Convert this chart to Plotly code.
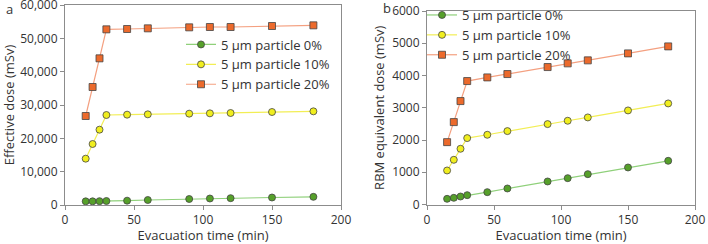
import plotly.graph_objects as go

time_min = [15, 20, 25, 30, 45, 60, 90, 105, 120, 150, 180]

eff_0 = [1100, 1100, 1150, 1200, 1300, 1500, 1800, 1950, 2050, 2250, 2450]
eff_10 = [13900, 18300, 22600, 27000, 27100, 27200, 27400, 27500, 27600, 27900, 28100]
eff_20 = [26700, 35400, 44000, 52700, 52800, 53000, 53300, 53400, 53400, 53700, 53900]

rbm_0 = [176, 207, 248, 290, 383, 497, 714, 817, 941, 1148, 1355]
rbm_10 = [1055, 1386, 1728, 2059, 2162, 2276, 2493, 2597, 2700, 2917, 3134]
rbm_20 = [1934, 2555, 3207, 3828, 3941, 4045, 4262, 4376, 4469, 4686, 4903]

series_names = ["5 µm particle 0%", "5 µm particle 10%", "5 µm particle 20%"]
marker_colors = ["#56a02a", "#f0ee1e", "#ec6a2c"]
line_colors = ["#8fd07a", "#f2ee55", "#f4a080"]
symbols = ["circle", "circle", "square"]

FONT = "Open Sans, Noto Sans, DejaVu Sans, sans-serif"
TXT = "#333333"

fig = go.Figure()

for i, ys in enumerate([eff_0, eff_10, eff_20]):
    fig.add_trace(go.Scatter(
        x=time_min, y=ys, mode="lines+markers", name=series_names[i],
        xaxis="x", yaxis="y", legend="legend",
        line=dict(color=line_colors[i], width=1.2),
        marker=dict(symbol=symbols[i], size=7, color=marker_colors[i],
                    line=dict(color="#444444", width=0.8)),
    ))

for i, ys in enumerate([rbm_0, rbm_10, rbm_20]):
    fig.add_trace(go.Scatter(
        x=time_min, y=ys, mode="lines+markers", name=series_names[i],
        xaxis="x2", yaxis="y2", legend="legend2",
        line=dict(color=line_colors[i], width=1.2),
        marker=dict(symbol=symbols[i], size=7, color=marker_colors[i],
                    line=dict(color="#444444", width=0.8)),
    ))

axis_common = dict(showgrid=False, zeroline=False, showline=True, mirror=True,
                   linecolor="#8c8c8c", linewidth=1, ticks="outside", ticklen=4,
                   tickcolor="#8c8c8c", automargin=False, ticklabeloverflow="allow",
                   tickfont=dict(size=12, color=TXT, family=FONT))

fig.update_layout(
    width=708, height=244,
    margin=dict(l=0, r=0, t=0, b=0, autoexpand=False),
    paper_bgcolor="white", plot_bgcolor="white",
    font=dict(family=FONT, color=TXT),
    xaxis=dict(domain=[65/708, 341/708], range=[0, 200], dtick=50, anchor="y",
               title=dict(text="Evacuation time (min)", font=dict(size=13), standoff=2),
               **axis_common),
    yaxis=dict(domain=[39/244, 239/244], range=[0, 60000], dtick=10000, tickformat=",d",
               anchor="x",
               title=dict(text="Effective dose (mSv)", font=dict(size=13), standoff=5),
               **axis_common),
    xaxis2=dict(domain=[427/708, 695/708], range=[0, 200], dtick=50, anchor="y2",
                title=dict(text="Evacuation time (min)", font=dict(size=13), standoff=2),
                **axis_common),
    yaxis2=dict(domain=[39.5/244, 233/244], range=[0, 6000], dtick=1000, tickformat="d",
                anchor="x2",
                title=dict(text="RBM equivalent dose (mSv)", font=dict(size=13), standoff=4),
                **axis_common),
    legend=dict(x=181/708, y=1 - 29.5/244, xanchor="left", yanchor="top",
                bgcolor="rgba(0,0,0,0)", font=dict(size=13, color=TXT),
                tracegroupgap=0, itemwidth=30),
    legend2=dict(x=422/708, y=1.0, xanchor="left", yanchor="top",
                 bgcolor="rgba(0,0,0,0)", font=dict(size=13, color=TXT),
                 tracegroupgap=0, itemwidth=30),
    annotations=[
        dict(text="a", x=9/708, y=1 - 8.5/244, xref="paper", yref="paper",
             xanchor="center", yanchor="middle",
             showarrow=False, font=dict(size=13, color=TXT)),
        dict(text="b", x=387/708, y=1 - 8/244, xref="paper", yref="paper",
             xanchor="center", yanchor="middle",
             showarrow=False, font=dict(size=13, color=TXT)),
    ],
)

fig.write_html("out.html", config={"displayModeBar": False},
               post_script="document.body.style.margin='0';")
